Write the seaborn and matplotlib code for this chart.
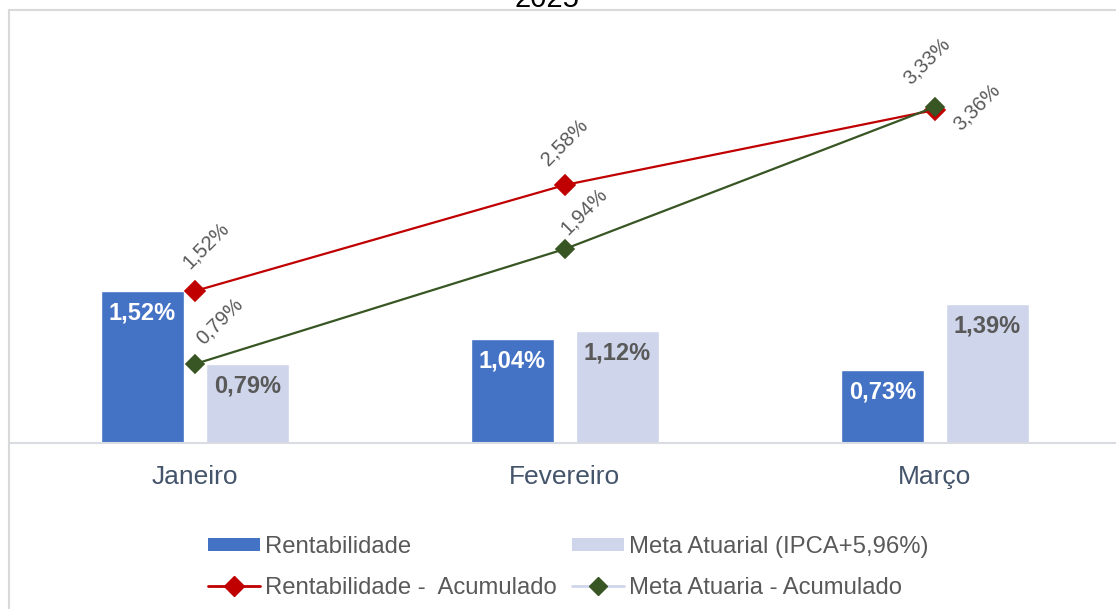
import matplotlib
matplotlib.use('Agg')
import matplotlib.pyplot as plt
import seaborn as sns
import pandas as pd
from matplotlib.patches import Patch, Rectangle
from matplotlib.lines import Line2D

# Data (values in %)
meses = ['Janeiro', 'Fevereiro', 'Março']
rentabilidade = [1.52, 1.04, 0.73]
meta_atuarial = [0.79, 1.12, 1.39]
rent_acumulado = [1.52, 2.58, 3.33]
meta_acumulado = [0.79, 1.94, 3.36]

nome_rent = 'Rentabilidade'
nome_meta = 'Meta Atuarial (IPCA+5,96%)'
nome_rent_acum = 'Rentabilidade -  Acumulado'
nome_meta_acum = 'Meta Atuaria - Acumulado'

def fmt(v):
    return f'{v:.2f}%'.replace('.', ',')

sns.set_style('white')
plt.rcParams['font.family'] = ['Liberation Sans', 'DejaVu Sans']

azul = '#4472C4'
lilas = '#CFD5EA'
vermelho = '#C00000'
verde = '#375623'
cinza_txt = '#595959'

df_barras = pd.DataFrame({
    'mes': meses * 2,
    'valor': rentabilidade + meta_atuarial,
    'serie': [nome_rent] * 3 + [nome_meta] * 3,
})
df_linhas = pd.DataFrame({'mes': meses, 'rent': rent_acumulado, 'meta': meta_acumulado})

fig = plt.figure(figsize=(11.16, 6.09), dpi=100)
ax = fig.add_axes([10 / 1116, 166 / 609, 1106 / 1116, 428 / 609])

sns.barplot(data=df_barras, x='mes', y='valor', hue='serie', palette=[azul, lilas],
            width=0.568, gap=0.21, saturation=1, legend=False, ax=ax)

sns.pointplot(data=df_linhas, x='mes', y='rent', color=vermelho, marker='D',
              markersize=10, linewidth=1.6, ax=ax)
sns.pointplot(data=df_linhas, x='mes', y='meta', color=verde, marker='D',
              markersize=9.5, linewidth=1.6, ax=ax)

# bar value labels inside the top of each bar
for cont, cor in zip(ax.containers[:2], ['white', cinza_txt]):
    for bar in cont:
        h = bar.get_height()
        ax.annotate(fmt(h), (bar.get_x() + bar.get_width() / 2, h),
                    xytext=(0, -16), textcoords='offset points',
                    ha='center', va='center', fontsize=17, fontweight='bold', color=cor)

# rotated labels for the accumulated lines
desloc_rent = [(8, 33), (0, 31), (-6, 35)]
desloc_meta = [(18, 31), (14, 27), (30, 0)]
for i, (vr, vm) in enumerate(zip(rent_acumulado, meta_acumulado)):
    ax.annotate(fmt(vr), (i, vr), xytext=desloc_rent[i], textcoords='offset points',
                ha='center', va='center', rotation=45, fontsize=14.5, color=cinza_txt)
    ax.annotate(fmt(vm), (i, vm), xytext=desloc_meta[i], textcoords='offset points',
                ha='center', va='center', rotation=45, fontsize=14.5, color=cinza_txt)

ax.set_xlim(-0.5, 2.49)
ax.set_ylim(0, 4.28)
ax.set_xlabel('')
ax.set_ylabel('')
ax.set_yticks([])
ax.tick_params(axis='x', length=0, pad=16, labelsize=19, labelcolor='#44546A')
for s in ['top', 'right', 'left']:
    ax.spines[s].set_visible(False)
ax.spines['bottom'].set_color('#D9DCE3')
ax.spines['bottom'].set_linewidth(1.5)

handles = [
    Patch(facecolor=azul, edgecolor='none'),
    Line2D([], [], color=vermelho, lw=2, marker='D', markersize=10),
    Patch(facecolor=lilas, edgecolor='none'),
    Line2D([], [], color=lilas, lw=2, marker='D', markersize=9,
           markerfacecolor=verde, markeredgecolor=verde),
]
labels = [nome_rent, nome_rent_acum, nome_meta, nome_meta_acum]
fig.legend(handles, labels, ncol=2, loc='center', bbox_to_anchor=(0.509, 0.068),
           frameon=False, fontsize=17.2, handlelength=2.17, handleheight=0.5,
           handletextpad=0.21, columnspacing=0.63, labelspacing=0.8,
           labelcolor=cinza_txt)

# title cut off at the top edge, as in the reference
fig.text(0.49, 1 - 7 / 609, '2025', ha='center', va='baseline', fontsize=21, color='black')

# chart area border
fig.patches.append(Rectangle((9 / 1116, -0.1), 1.2, 1 - 10 / 609 + 0.1,
                             transform=fig.transFigure, fill=False,
                             edgecolor='#D9D9D9', linewidth=1.5))

fig.savefig('out.png', dpi=100)
